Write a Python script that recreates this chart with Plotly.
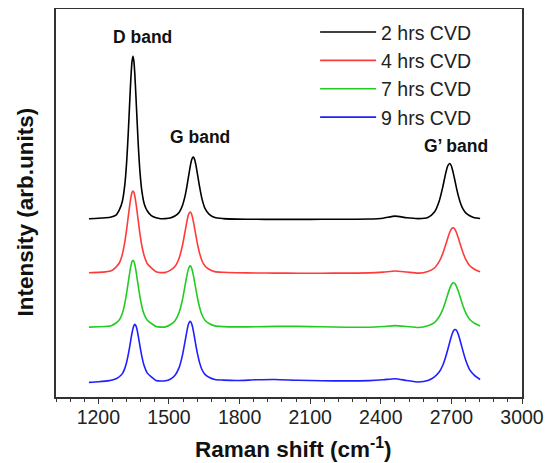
import plotly.graph_objects as go

# Raman shift grid (cm^-1)
wavenumber = [1160, 1200, 1230, 1255, 1275, 1290, 1302, 1312, 1320, 1327,
              1333, 1338, 1343, 1347, 1351, 1355, 1359, 1364, 1370, 1377,
              1385, 1395, 1408, 1425, 1445, 1465, 1485, 1505, 1525, 1543,
              1557, 1568, 1576, 1583, 1589, 1594, 1599, 1604, 1609, 1615,
              1622, 1630, 1640, 1653, 1670, 1695, 1730, 1790, 1870, 1950,
              2050, 2150, 2250, 2350, 2410, 2460, 2510, 2560, 2600, 2628,
              2648, 2663, 2675, 2685, 2693, 2700, 2707, 2714, 2721, 2729,
              2738, 2749, 2762, 2778, 2798, 2822]

# Intensities (arb. units, stacked with offsets as in the figure)
cvd_2h = [178.3, 178.7, 179.2, 180.1, 181.9, 187.6, 195.8, 211.3, 234.4, 263.9,
          294.1, 318.2, 335.7, 340.8, 335.7, 322.6, 304.0, 278.9, 250.2, 224.4,
          205.6, 193.1, 186.0, 181.4, 179.2, 178.3, 178.4, 179.0, 181.0, 184.6,
          191.3, 200.6, 210.4, 220.3, 228.8, 235.0, 238.9, 239.9, 237.5, 231.3,
          221.6, 210.3, 198.4, 188.6, 182.9, 179.4, 178.4, 177.9, 177.7, 177.6,
          177.6, 177.7, 177.8, 178.0, 178.8, 180.9, 179.2, 178.4, 179.6, 185.0,
          195.8, 209.6, 222.9, 231.4, 233.5, 231.0, 224.9, 217.5, 209.6, 201.6,
          194.3, 188.1, 183.9, 181.3, 179.2, 178.5]

cvd_4h = [124.3, 124.6, 125.1, 126.2, 129.9, 134.5, 142.8, 154.6, 167.4, 180.4,
          191.4, 199.3, 204.7, 206.0, 204.7, 200.8, 195.1, 186.3, 175.3, 162.6,
          151.0, 141.0, 133.3, 129.1, 125.2, 124.4, 124.6, 126.6, 130.4, 138.8,
          151.2, 165.0, 175.3, 182.4, 185.0, 184.1, 180.6, 175.1, 168.7, 160.7,
          152.0, 143.8, 136.5, 131.0, 127.8, 125.4, 124.7, 124.3, 124.0, 123.9,
          123.8, 123.8, 123.9, 124.1, 124.9, 126.0, 125.0, 123.9, 125.6, 129.0,
          135.3, 143.2, 151.7, 159.3, 164.7, 168.1, 169.3, 168.1, 164.7, 159.3,
          152.4, 144.5, 137.1, 131.3, 127.8, 125.2]

cvd_7h = [69.9, 70.2, 70.5, 71.3, 74.0, 77.5, 83.8, 93.2, 103.8, 114.7,
          124.0, 130.8, 135.5, 136.8, 135.5, 132.2, 127.3, 119.7, 110.2, 99.8,
          90.3, 82.4, 76.8, 73.6, 70.5, 69.9, 70.1, 72.3, 76.1, 84.5,
          97.0, 111.0, 121.4, 128.3, 131.1, 130.2, 126.7, 121.3, 114.9, 106.8,
          98.0, 89.8, 82.3, 76.8, 73.5, 71.1, 70.4, 70.1, 70.2, 70.6,
          70.6, 70.2, 69.8, 69.8, 70.5, 71.4, 70.5, 69.5, 71.2, 74.4,
          80.2, 87.4, 95.5, 103.0, 108.6, 112.3, 114.2, 113.7, 110.9, 105.9,
          99.5, 91.2, 83.6, 77.5, 73.8, 71.0]

cvd_9h = [14.6, 15.2, 15.9, 16.8, 18.2, 20.5, 23.4, 28.4, 34.8, 42.4,
          50.2, 57.3, 64.0, 68.4, 71.4, 72.8, 71.7, 67.7, 60.3, 50.5,
          40.4, 30.9, 23.9, 20.2, 16.6, 16.0, 16.2, 17.8, 21.6, 29.4,
          41.4, 55.2, 65.7, 73.0, 75.8, 74.7, 71.2, 65.6, 59.0, 50.7,
          42.4, 34.4, 27.5, 22.6, 19.7, 17.5, 16.9, 16.5, 17.2, 17.5,
          16.7, 16.3, 16.1, 16.4, 17.2, 18.3, 16.5, 15.0, 16.5, 20.2,
          25.0, 31.5, 39.5, 47.8, 54.9, 60.8, 65.4, 67.5, 66.9, 62.9,
          55.8, 46.1, 35.9, 27.1, 21.6, 17.5]

series_names = ["2 hrs CVD", "4 hrs CVD", "7 hrs CVD", "9 hrs CVD"]
series_values = [cvd_2h, cvd_4h, cvd_7h, cvd_9h]
series_colors = ["#000000", "#ff3a3a", "#22cc22", "#1f1fff"]

x_tick_values = [1200, 1500, 1800, 2100, 2400, 2700, 3000]

band_labels = ["D band", "G band", "G\u2019 band"]
band_label_x = [1386, 1633, 2720]
band_label_y = [360, 260, 251]

FONT = "Liberation Sans, Arial, sans-serif"

fig = go.Figure()
for name, vals, col in zip(series_names, series_values, series_colors):
    fig.add_trace(go.Scatter(
        x=wavenumber, y=vals, mode="lines", name=name,
        line=dict(color=col, width=1.6, shape="spline", smoothing=0.6),
    ))

for txt, bx, by in zip(band_labels, band_label_x, band_label_y):
    fig.add_annotation(x=bx, y=by, xref="x", yref="y", text="<b>%s</b>" % txt,
                       showarrow=False, font=dict(family=FONT, size=17.5, color="#111"))

# axis titles
fig.add_annotation(x=0.5086, y=-0.1315, xref="paper", yref="paper",
                   xanchor="center", yanchor="middle", showarrow=False,
                   text="<b>Raman shift (cm<sup>-1</sup>)</b>",
                   font=dict(family=FONT, size=22.5, color="#111"))
fig.add_annotation(x=-0.0644, y=0.478, xref="paper", yref="paper",
                   xanchor="center", yanchor="middle", showarrow=False, textangle=-90,
                   text="<b>Intensity (arb.units)</b>",
                   font=dict(family=FONT, size=22.5, color="#111"))

# the page body adds an 8 px offset, so the figure is sized to fit the window
fig.update_layout(
    width=545, height=455,
    margin=dict(l=48, r=31, t=1, b=66, autoexpand=False),
    paper_bgcolor="white", plot_bgcolor="white",
    font=dict(family=FONT, color="#222"),
    showlegend=True,
    legend=dict(x=0.556, y=0.99, xanchor="left", yanchor="top",
                bgcolor="rgba(0,0,0,0)", font=dict(family=FONT, size=19.5, color="#222"),
                itemwidth=56, tracegroupgap=0),
)
fig.update_xaxes(
    range=[1020, 3000], tickvals=x_tick_values, ticktext=[str(v) for v in x_tick_values],
    ticks="outside", ticklen=5, tickwidth=1.2, tickcolor="#333",
    minor=dict(dtick=60, tick0=1200, ticks="outside", ticklen=3, tickcolor="#333", tickwidth=1),
    showline=True, linecolor="#333", linewidth=1.5, mirror=True,
    showgrid=False, zeroline=False, automargin=False, ticklabelstandoff=-3,
    tickfont=dict(family=FONT, size=19.5, color="#222"),
)
fig.update_yaxes(
    range=[0, 388], showticklabels=False, ticks="",
    showline=True, linecolor="#333", linewidth=1.5, mirror=True,
    showgrid=False, zeroline=False, automargin=False,
)

fig.write_html("out.html")
